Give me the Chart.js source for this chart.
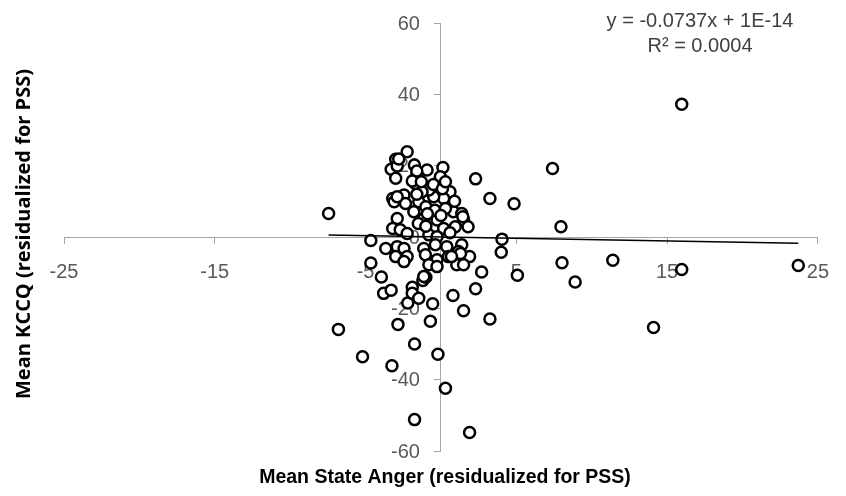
<!DOCTYPE html>
<html>
<head>
<meta charset="utf-8">
<script src="https://cdn.jsdelivr.net/npm/chart.js@4.4.0/dist/chart.umd.min.js"></script>
<style>
  html, body { margin: 0; padding: 0; background: #fff; }
</style>
</head>
<body>
<canvas id="myChart" width="846" height="496"></canvas>
<script>
// Mean State Anger (x) / Mean KCCQ (y), both residualized for PSS
var stateAnger = [15.97, 7.4, 2.3, 3.25, 4.85, 7.96, 4.05, 4.0, 8.03, 11.4,
  2.7, 5.07, 8.9, 15.97, 23.7, 2.3, 14.1, -6.8, -5.2, -3.25,
  -1.75, -0.2, 0.3, -1.75, 1.9, -2.85, -0.7, 1.5, 3.25, 0.8,
  -0.55, -2.2, -3.8, -3.3, -3.95, -4.65, -4.65, -1.9, -1.9, -1.47,
  -1.2, -1.0, -7.45, -2.24, -3.0, -3.3, -3.0, -2.9, -1.76, -0.92,
  0.13, -0.04, -1.6, -1.7, -3.2, -2.45, -3.1, -2.35, -1.47, 0.6,
  0.18, -0.48, -0.8, -1.25, -1.8, -1.14, -0.6, -0.26, 0.83, 1.38,
  1.5, 1.8, 0.95, 0.18, -2.9, -3.2, -2.7, -2.24, -0.8, -0.26,
  -3.66, -2.9, -2.45, -1.14, -0.37, 0.39, 1.38, -3.0, -2.24, -1.03,
  -0.26, 0.5, 1.16, 1.9, -2.45, -0.8, -0.26, 1.05, 1.5, -1.14,
  -1.6, -1.9, -1.3, -0.5, 0.1, -1.0, -0.4, 0.3, 0.0, -1.5,
  -1.0, 0.6, -0.9, -1.6, 0.3, 0.9, -2.8, -2.9, 1.45, 1.3, 0.7];
var kccq = [37.2, 19.2, 16.3, 10.8, 9.3, 2.9, -0.6, -4.3, -7.2, -6.5,
  -9.8, -10.7, -12.6, -9.1, -8.0, -14.5, -25.4, -25.9, -33.6, -36.1,
  -30.0, -32.9, -42.4, -51.2, -54.8, -24.5, -23.6, -20.7, -23.0, -16.4,
  -18.7, -18.5, -15.8, -14.9, -11.2, -7.3, -1.0, -14.1, -15.8, -17.2,
  -12.2, -11.3, 6.6, 23.9, 21.8, 19.0, 16.5, 19.9, 20.2, 18.8,
  19.5, 16.9, 17.4, 15.0, 10.8, 11.8, 9.9, 9.4, 9.9, 12.7,
  10.8, 11.3, 13.2, 12.7, 7.1, 5.2, 7.1, 4.8, 7.1, 6.6,
  4.8, 2.9, 2.9, 2.4, 5.2, 2.4, 2.0, 1.0, 0.6, 0.1,
  -3.2, -2.7, -3.2, -3.2, -2.2, -2.7, -2.2, -5.5, -5.5, -5.0,
  -6.4, -5.5, -4.1, -5.5, -6.9, -7.8, -8.3, -7.8, -7.8, -11.1,
  18.5, 15.7, 15.5, 14.7, 13.5, 8.5, 7.5, 8.0, 6.0, 3.8,
  3.0, 1.2, 6.5, 12.0, 15.5, 10.0, 21.9, 11.3, 5.7, -4.6, -5.5];

var xTicks = [-25, -15, -5, 5, 15, 25];
var yTicks = [-60, -40, -20, 0, 20, 40, 60];

// linear trendline shown in the chart
var slope = -0.0737;
var intercept = 1e-14;
var equationLines = ['y = -0.0737x + 1E-14', 'R\u00b2 = 0.0004'];

var xTitle = 'Mean State Anger (residualized for PSS)';
var yTitle = 'Mean KCCQ (residualized for PSS)';

var points = stateAnger.map(function (x, i) { return { x: x, y: kccq[i] }; });
var xMin = Math.min.apply(null, stateAnger);
var xMax = Math.max.apply(null, stateAnger);
var trend = [
  { x: xMin, y: slope * xMin + intercept },
  { x: xMax, y: slope * xMax + intercept }
];

var axisGray = '#a6a6a6';
var tickFont = { family: 'Liberation Sans', size: 20 };

// y tick labels: Chart.js puts them right on a crossing axis, so we draw them
// ourselves (before the points, so the markers cover them like in Excel)
var yLabelPlugin = {
  id: 'yLabels',
  beforeDatasetsDraw: function (chart) {
    var c = chart.ctx;
    var xs = chart.scales.x, ys = chart.scales.y;
    var x0 = xs.getPixelForValue(0);
    c.save();
    c.fillStyle = '#595959';
    c.font = '20px "Liberation Sans"';
    c.textAlign = 'right';
    c.textBaseline = 'middle';
    ys.ticks.forEach(function (t) {
      c.fillText(String(t.value), x0 - 21, ys.getPixelForValue(t.value) + 1);
    });
    c.restore();
  }
};

var textPlugin = {
  id: 'extraText',
  afterDraw: function (chart) {
    var c = chart.ctx;
    c.save();
    c.fillStyle = '#000';
    c.textAlign = 'center';
    c.textBaseline = 'middle';
    c.font = 'bold 19.5px "Liberation Sans"';
    c.fillText(xTitle, 445, 478);

    c.translate(24, 234);
    c.rotate(-Math.PI / 2);
    c.font = 'bold 20px "Open Sans"';
    c.fillText(yTitle, 0, 0);
    c.restore();

    c.save();
    c.fillStyle = '#404040';
    c.textAlign = 'center';
    c.textBaseline = 'middle';
    c.font = '20px "Liberation Sans"';
    c.fillText(equationLines[0], 700, 21);
    c.fillText(equationLines[1], 700, 46);
    c.restore();
  }
};

var ctx = document.getElementById('myChart');
var myChart = new Chart(ctx, {
  type: 'scatter',
  data: {
    datasets: [
      {
        type: 'line',
        data: trend,
        borderColor: '#000',
        borderWidth: 1.5,
        pointRadius: 0,
        fill: false,
        order: 0
      },
      {
        data: points,
        pointStyle: 'circle',
        pointRadius: 5.5,
        borderWidth: 2.5,
        borderColor: '#000',
        backgroundColor: '#fff',
        order: 1
      }
    ]
  },
  options: {
    responsive: false,
    animation: false,
    layout: { padding: { left: 64, right: 22, top: 23, bottom: 45 } },
    plugins: {
      legend: { display: false },
      tooltip: { enabled: false }
    },
    scales: {
      x: {
        type: 'linear',
        position: { y: 0 },
        min: -25,
        max: 25,
        afterBuildTicks: function (s) { s.ticks = xTicks.map(function (v) { return { value: v }; }); },
        ticks: { autoSkip: false, maxRotation: 0, padding: 17, color: '#595959', font: tickFont },
        grid: { drawOnChartArea: false, drawTicks: true, tickLength: 6, color: axisGray },
        border: { color: axisGray, width: 1 }
      },
      y: {
        type: 'linear',
        position: { x: 0 },
        min: -60,
        max: 60,
        afterBuildTicks: function (s) { s.ticks = yTicks.map(function (v) { return { value: v }; }); },
        ticks: { display: false, autoSkip: false },
        grid: { drawOnChartArea: false, drawTicks: true, tickLength: 6, color: axisGray },
        border: { color: axisGray, width: 1 }
      }
    }
  },
  plugins: [yLabelPlugin, textPlugin]
});
</script>
</body>
</html>
